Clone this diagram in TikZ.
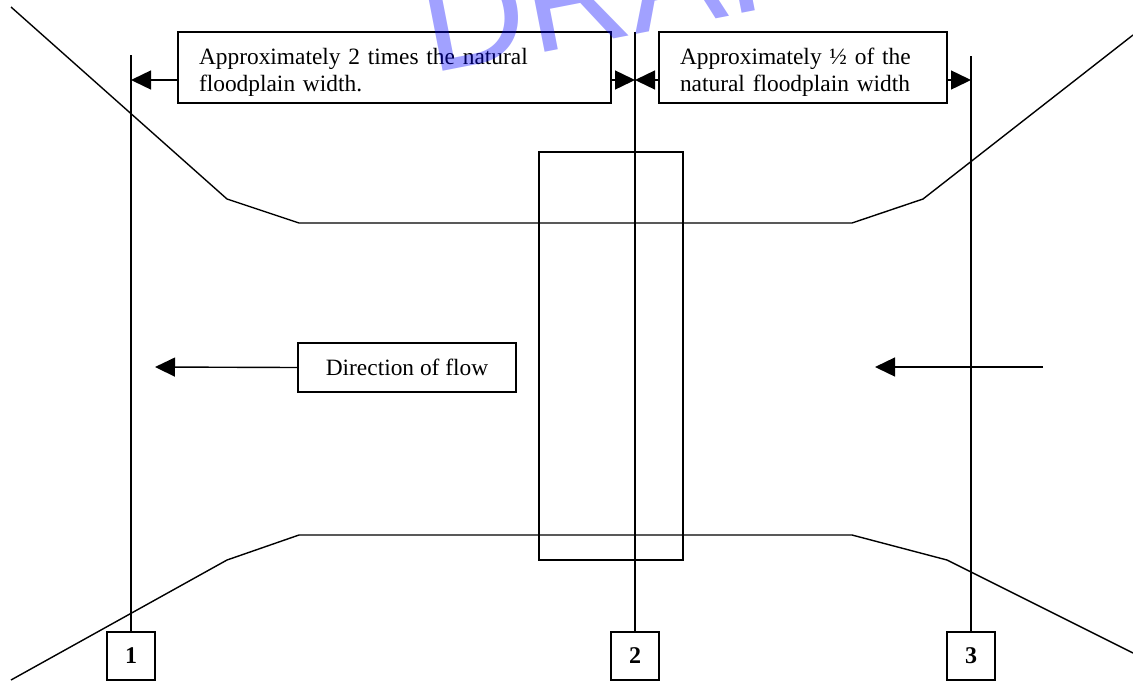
\documentclass[tikz,border=0pt]{standalone}
\usepackage{fontspec}
\setmainfont{Liberation Serif}
\newfontfamily\wmfont{Liberation Sans}
\usetikzlibrary{arrows.meta}
\begin{document}
\begin{tikzpicture}[x=0.5pt,y=-0.5pt,
  line width=0.7pt,
  every node/.style={font=\fontsize{11.7}{13.5}\selectfont},
  txtbox/.style={draw,line width=0.9pt,fill=white,inner xsep=10.5pt,inner ysep=0pt,align=left,minimum height=35.5pt},
  numbox/.style={draw,line width=0.9pt,fill=white,minimum width=24pt,minimum height=24pt,inner sep=0pt,font=\fontsize{12}{12}\selectfont\bfseries},
  arr/.style={-{Triangle[length=10pt,width=9.5pt]}},
]
\useasboundingbox (0,0) rectangle (1133,681);
% banks
\draw (11,7) -- (227,199) -- (299,223) -- (852,223) -- (923,199) -- (1133,35);
\draw (11,680) -- (227,560) -- (299,535) -- (852,535) -- (947,560) -- (1133,653);
% bridge
\node[draw,line width=0.9pt,minimum width=72pt,minimum height=204pt,inner sep=0pt] (bridge) at (611,356) {};
% section boxes
\node[numbox] (n1) at (131,656) {1};
\node[numbox] (n2) at (635,656) {2};
\node[numbox] (n3) at (971,656) {3};
\coordinate (l1top) at (131,55);
\coordinate (l2top) at (635,32);
\coordinate (l3top) at (971,56);
\draw (l1top) -- (n1.north);
\draw (l2top) -- (n2.north);
\draw (l3top) -- (n3.north);
% dimension boxes
\node[txtbox,text width=195.5pt] (b1) at (394.5,67.5) {\rule{0pt}{13pt}Approximately 2 times the natural\\floodplain width.};
\node[txtbox,text width=123pt] (b2) at (803,67.5) {\rule{0pt}{13pt}Approximately \textonehalf{} of the\\natural floodplain width};
\coordinate (ay) at (0,80);
\draw[arr] (b1.west |- ay) -- (l1top |- ay);
\draw[arr] (b1.east |- ay) -- (l2top |- ay);
\draw[arr] (b2.west |- ay) -- (l2top |- ay);
\draw[arr] (b2.east |- ay) -- (l3top |- ay);
% flow
\node[draw,line width=0.9pt,fill=white,minimum width=109pt,minimum height=24.5pt,inner xsep=11pt] (flow) at (407,367.5) {Direction of flow};
\coordinate (fl) at (155,367);
\coordinate (fr1) at (1043,367);
\coordinate (fr2) at (875,367);
\draw[arr] (flow.west) -- (fl);
\draw[arr] (fr1) -- (fr2);
% watermark
\node[font=\wmfont\fontsize{72}{72}\selectfont,text=blue,opacity=0.37,rotate=11,anchor=base west,inner sep=0pt] (wm) at (431,74) {DRAFT};
\end{tikzpicture}
\end{document}
